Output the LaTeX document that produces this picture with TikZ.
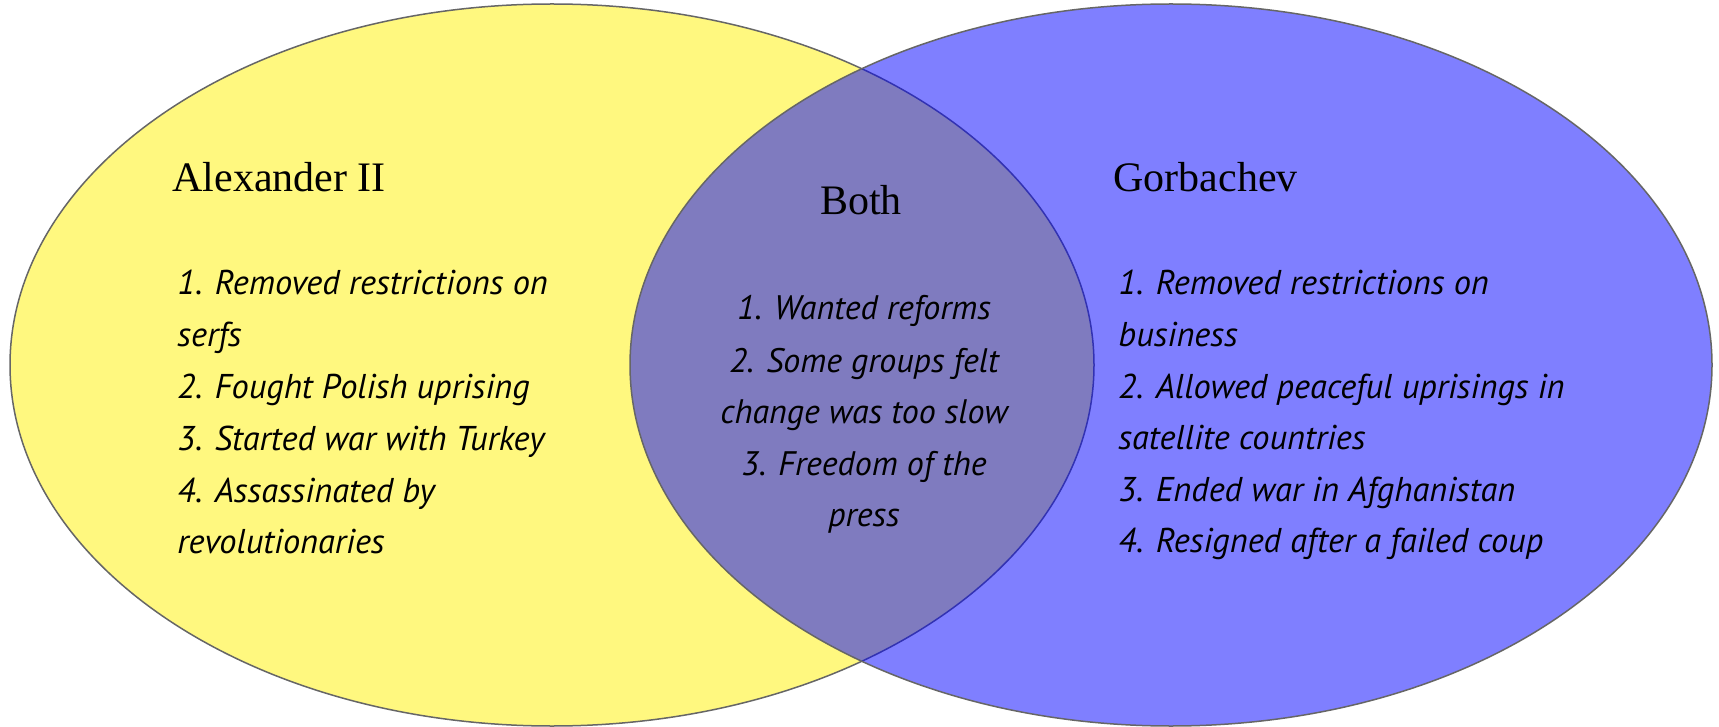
\documentclass[tikz,border=0pt]{standalone}
\usepackage{fontspec}
\setmainfont{Liberation Serif}
\newfontfamily\handfont{PT Sans}[ItalicFont={PT Sans Italic}]
\begin{document}
\begin{tikzpicture}[x=0.5pt,y=-0.5pt,
  venn/.style={draw=black!60,line width=0.75pt,fill opacity=0.5},
  title/.style={font=\fontsize{21}{25}\selectfont,anchor=base west,inner sep=0pt},
  item/.style={font=\handfont\itshape\fontsize{17.2}{20}\selectfont,anchor=base west,inner sep=0pt},
  citem/.style={font=\handfont\itshape\fontsize{17}{20}\selectfont,anchor=base,inner sep=0pt}]
\useasboundingbox (0,0) rectangle (1719,727);
\fill[white] (0,0) rectangle (1719,727);
\draw[venn,fill=yellow] (552,365) ellipse [x radius=542, y radius=361];
\draw[venn,fill=blue] (1171,365) ellipse [x radius=541, y radius=361];
% titles
\node[title] (tA) at (172,192) {Alexander II};
\node[title,anchor=base] (tB) at (861,215) {Both};
\node[title] (tG) at (1113,192) {Gorbachev};
% left list
\node[item] (a1) at (177,295) {1. Removed restrictions on};
\node[item] (a1b) at (177,347) {serfs};
\node[item] (a2) at (177,398) {2. Fought Polish uprising};
\node[item] (a3) at (177,450) {3. Started war with Turkey};
\node[item] (a4) at (177,502) {4. Assassinated by};
\node[item] (a4b) at (177,553) {revolutionaries};
% middle list
\node[citem] (b1) at (864,320) {1. Wanted reforms};
\node[citem] (b2) at (864,372) {2. Some groups felt};
\node[citem] (b2b) at (864,423) {change was too slow};
\node[citem] (b3) at (864,475) {3. Freedom of the};
\node[citem] (b3b) at (864,526) {press};
% right list
\node[item] (g1) at (1118,295) {1. Removed restrictions on};
\node[item] (g1b) at (1118,347) {business};
\node[item] (g2) at (1118,398) {2. Allowed peaceful uprisings in};
\node[item] (g2b) at (1118,449) {satellite countries};
\node[item] (g3) at (1118,501) {3. Ended war in Afghanistan};
\node[item] (g4) at (1118,552) {4. Resigned after a failed coup};
\end{tikzpicture}
\end{document}
